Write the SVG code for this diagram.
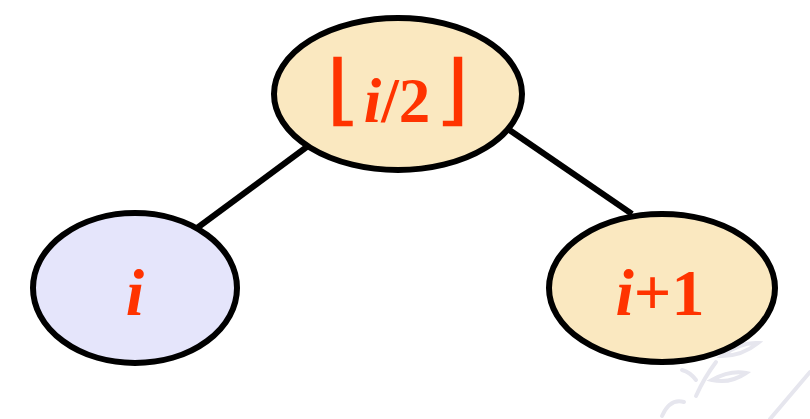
<svg xmlns="http://www.w3.org/2000/svg" width="810" height="419" viewBox="0 0 810 419">
  <style>
    .node { stroke: #000; stroke-width: 6; }
    .warm { fill: #FAE8C0; }
    .cool { fill: #E5E5FB; }
    .edge { stroke: #000; stroke-width: 6; fill: none; }
    .label { font-family: "Liberation Serif", "DejaVu Serif", serif; font-weight: bold; fill: #FF3300; text-anchor: middle; }
    .floor { font-family: "DejaVu Sans", sans-serif; fill: #FF3300; font-size: 78px; }
    .mark { fill: none; stroke: #E6E6EE; stroke-width: 4; stroke-linecap: round; }
  </style>
  <rect width="810" height="419" fill="#fff"/>

  <!-- faint leaf ornament in the corner -->
  <g id="ornament">
    <path class="mark" d="M722,356 Q740,342 758,343 Q742,356 722,356 Z"/>
    <path class="mark" d="M712,380 Q730,370 746,373 Q730,384 712,380 Z"/>
    <path class="mark" d="M696,396 Q704,378 716,362"/>
    <path class="mark" d="M682,370 Q690,372 696,380"/>
    <path class="mark" d="M662,416 Q670,398 684,402"/>
    <path class="mark" d="M770,419 L810,372" stroke-width="10"/>
  </g>

  <g id="connectors">
    <line class="edge" x1="308" y1="146" x2="193" y2="231"/>
    <line class="edge" x1="508" y1="129" x2="632" y2="214"/>
  </g>

  <g id="node-parent">
    <ellipse class="node warm" cx="398" cy="94" rx="124" ry="76"/>
    <text class="floor" transform="translate(325,116) scale(1.2,1)">⌊</text>
    <text class="label" x="397" y="122" font-size="63"><tspan font-style="italic">i</tspan>/2</text>
    <text class="floor" transform="translate(470,116) scale(1.2,1)" text-anchor="end">⌋</text>
  </g>

  <g id="node-left">
    <ellipse class="node cool" cx="135" cy="288" rx="102" ry="75"/>
    <text class="label" x="135" y="315" font-size="66" font-style="italic">i</text>
  </g>

  <g id="node-right">
    <ellipse class="node warm" cx="662" cy="288" rx="113" ry="74"/>
    <text class="label" x="660" y="315" font-size="66"><tspan font-style="italic">i</tspan>+1</text>
  </g>
</svg>
